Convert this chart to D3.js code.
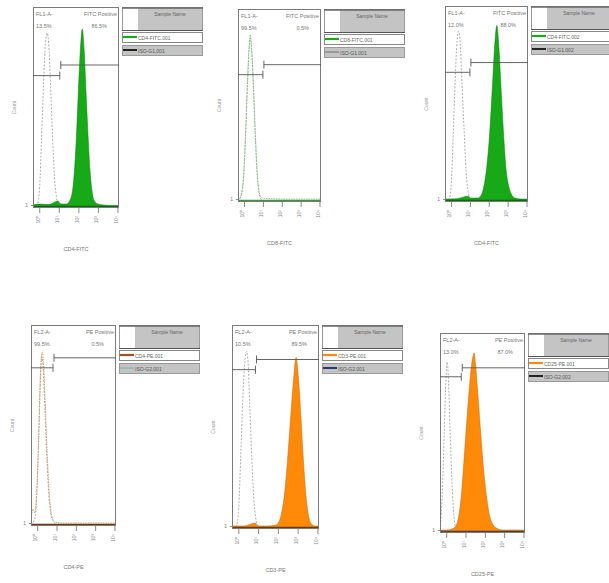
<!DOCTYPE html>
<html><head><meta charset="utf-8">
<script src="https://cdn.jsdelivr.net/npm/d3@7/dist/d3.min.js"></script>
<style>body{margin:0;background:#fff}svg{display:block;font-family:"Liberation Sans",Arial,sans-serif}</style>
</head><body><svg id="c" width="609" height="583"></svg>
<script>
// ---------- data ----------
const xLabels = ["CD4-FITC","CD8-FITC","CD4-FITC","CD4-PE","CD3-PE","CD25-PE"];
const leftGateNames = ["FL1-A-","FL1-A-","FL1-A-","FL2-A-","FL2-A-","FL2-A-"];
const rightGateNames = ["FITC Positive","FITC Positive","FITC Positive","PE Positive","PE Positive","PE Positive"];
const leftPct = ["13.5%","99.5%","12.0%","99.5%","10.5%","13.0%"];
const rightPct = ["86.5%","0.5%","88.0%","0.5%","89.5%","87.0%"];
const sampleNames = ["CD4-FITC.001","CD8-FITC.001","CD4-FITC.002","CD4-PE.001","CD3-PE.001","CD25-PE.001"];
const controlNames = ["ISO-G1.001","ISO-G1.001","ISO-G1.002","ISO-G2.001","ISO-G2.001","ISO-G2.002"];
const tickLabels = ["10\u2070","10\u00b9","10\u00b2","10\u00b3","10\u2074"];
const tickValues = [0,1,2,3,4];
const gateBoundary = [1.05, 1.0, 1.0, 0.82, 0.87, 0.78];
const gateLeftLevel = [65.7, 65.8, 66, 78.6, 78, 78];
const gateRightLevel = [71, 71, 71, 83.6, 83, 82.5];

// histograms: [log decade, % of max height]
const sample1 = [[-0.32,1],[0,1.5],[0.5,1.2],[0.8,2.5],[0.95,3],[1.1,1.5],[1.4,1.5],[1.55,3],[1.7,8],[1.8,18],[1.9,35],[2.0,58],[2.1,78],[2.2,89],[2.3,78],[2.4,56],[2.5,35],[2.6,18],[2.7,8],[2.82,3],[3.0,1.5],[3.3,1],[3.6,0.8],[4.1,0.8]];
const control1 = [[-0.32,0],[-0.1,1],[0.02,10],[0.12,35],[0.22,62],[0.32,82],[0.4,87],[0.48,82],[0.58,60],[0.68,35],[0.78,15],[0.88,5],[0.98,1.5],[1.1,0.5],[1.5,0],[4.1,0]];
const sample2 = [[-0.35,0.5],[-0.2,2],[-0.05,10],[0.08,35],[0.18,62],[0.27,80],[0.33,86.5],[0.4,80],[0.5,60],[0.6,35],[0.7,15],[0.8,5],[0.9,2],[1.05,1.5],[1.5,1.2],[2.5,1],[3.5,1],[4.1,1]];
const control2 = [[-0.35,0],[-0.2,1.5],[-0.05,9],[0.08,33],[0.18,60],[0.27,79],[0.33,85],[0.4,79],[0.5,58],[0.6,33],[0.7,13],[0.8,4],[0.9,1],[1.1,0],[4.1,0]];
const sample3 = [[-0.32,1],[0.3,1.2],[0.9,2.5],[1.05,1.5],[1.4,1.5],[1.6,3],[1.75,8],[1.9,18],[2.05,35],[2.2,60],[2.33,82],[2.43,90],[2.53,80],[2.65,58],[2.78,35],[2.9,18],[3.05,8],[3.2,3.5],[3.4,1.5],[3.7,1],[4.1,1]];
const control3 = [[-0.32,0],[-0.1,1],[0.02,10],[0.12,35],[0.22,62],[0.32,82],[0.4,87],[0.48,82],[0.58,60],[0.7,35],[0.8,15],[0.9,5],[1.0,1.5],[1.15,0.5],[1.5,0],[4.1,0]];
const sample4 = [[-0.32,2],[-0.22,8],[-0.12,6],[-0.05,12],[0.05,35],[0.13,65],[0.2,82],[0.26,86.5],[0.32,82],[0.4,65],[0.5,40],[0.6,20],[0.7,8],[0.8,3],[0.9,1.5],[1.2,1],[2,1],[3,1],[4.1,1]];
const control4 = [[-0.32,0],[-0.1,4],[0.0,20],[0.1,50],[0.18,75],[0.24,84],[0.3,80],[0.38,62],[0.48,38],[0.58,18],[0.7,6],[0.85,1.5],[1.0,0],[4.1,0]];
const sample5 = [[-0.35,1],[0.3,1],[0.85,2.5],[1.0,1],[1.5,1],[1.9,1.5],[2.05,3],[2.2,8],[2.35,18],[2.5,35],[2.65,55],[2.8,74],[2.92,84],[3.04,74],[3.18,52],[3.3,32],[3.42,16],[3.55,6],[3.7,2],[3.9,1],[4.1,1]];
const control5 = [[-0.32,0],[-0.1,1],[0.02,10],[0.12,35],[0.22,62],[0.33,82],[0.41,87],[0.49,82],[0.58,60],[0.68,35],[0.78,15],[0.88,5],[0.96,1.5],[1.1,0.5],[1.5,0],[4.1,0]];
const sample6 = [[-0.35,1],[0.0,1],[0.3,1.5],[0.5,3],[0.65,8],[0.8,20],[0.95,40],[1.1,60],[1.25,78],[1.38,88],[1.45,90],[1.52,84],[1.65,68],[1.8,48],[1.95,30],[2.1,17],[2.25,8],[2.4,4],[2.6,2],[2.9,1],[4.1,1]];
const control6 = [[-0.36,0],[-0.3,3],[-0.2,20],[-0.1,50],[-0.02,75],[0.05,85.5],[0.12,76],[0.2,52],[0.3,25],[0.4,8],[0.5,2],[0.6,0],[4.1,0]];
const sampleCurves = [sample1,sample2,sample3,sample4,sample5,sample6];
const controlCurves = [control1,control2,control3,control4,control5,control6];

// ---------- layout / style ----------
const frames = [{x:33,y:7,w:86,h:201},{x:238,y:9,w:83,h:193},{x:445,y:6,w:83,h:196},
                {x:31,y:325,w:85,h:201},{x:232,y:325,w:87,h:204},{x:440,y:333,w:85,h:200}];
const GREEN = "#17a917", ORANGE = "#ff8a0a";
const styles = [
  {fill:GREEN, stroke:"#0d7a0d", mode:"fill", sw1:GREEN, sw2:"#222"},
  {fill:"none", stroke:"#6fbf6f", mode:"line", sw1:GREEN, sw2:"#999"},
  {fill:GREEN, stroke:"#0d7a0d", mode:"fill", sw1:GREEN, sw2:"#222"},
  {fill:"none", stroke:"#c98a4a", mode:"line", sw1:"#a0521d", sw2:"#9bb"},
  {fill:ORANGE, stroke:"#c86400", mode:"fill", sw1:ORANGE, sw2:"#1f3f6f"},
  {fill:ORANGE, stroke:"#c86400", mode:"fill", sw1:ORANGE, sw2:"#222"}
];
const baseColors = ["#0d6a0d","#3a9a3a","#0d6a0d","#6a3a10","#6a3a10","#444"];

const svg = d3.select("#c");
const defs = svg.append("defs");

frames.forEach((f,i)=>{
  const st = styles[i];
  const x = d3.scaleLinear().domain([-0.32,4.08]).range([f.x,f.x+f.w]);
  const y = d3.scaleLinear().domain([0,100]).range([f.y+f.h-1,f.y]);
  const g = svg.append("g");
  defs.append("clipPath").attr("id","cl"+i).append("rect")
    .attr("x",f.x).attr("y",f.y).attr("width",f.w).attr("height",f.h);
  const pg = g.append("g").attr("clip-path","url(#cl"+i+")");

  const area = d3.area().x(d=>x(d[0])).y0(y(0)).y1(d=>y(d[1])).curve(d3.curveMonotoneX);
  const line = d3.line().x(d=>x(d[0])).y(d=>y(d[1])).curve(d3.curveMonotoneX);

  pg.append("path").attr("d",line(controlCurves[i])).attr("fill","none")
    .attr("stroke","#9a9a9a").attr("stroke-width",0.8).attr("stroke-dasharray","2,1.5");
  if(st.mode==="fill"){
    pg.append("path").attr("d",area(sampleCurves[i])).attr("fill",st.fill)
      .attr("stroke",st.stroke).attr("stroke-width",0.5);
  } else {
    pg.append("path").attr("d",line(sampleCurves[i])).attr("fill","none")
      .attr("stroke",st.stroke).attr("stroke-width",0.8).attr("stroke-dasharray","1.5,1");
  }
  pg.append("line").attr("x1",f.x).attr("x2",f.x+f.w).attr("y1",y(0)-0.5).attr("y2",y(0)-0.5)
    .attr("stroke",baseColors[i]).attr("stroke-width",1.3);

  g.append("rect").attr("x",f.x+0.5).attr("y",f.y+0.5).attr("width",f.w-1).attr("height",f.h-1)
    .attr("fill","none").attr("stroke","#7a7a7a").attr("stroke-width",1);

  const gb = x(gateBoundary[i]);
  const yl = y(gateLeftLevel[i]), yr = y(gateRightLevel[i]);
  g.append("path").attr("d",`M${f.x},${yl}H${gb}M${gb},${yl-4}V${yl+4}`)
    .attr("stroke","#555").attr("stroke-width",0.9).attr("fill","none");
  g.append("path").attr("d",`M${gb+1},${yr-4}V${yr+4}M${gb+1},${yr}H${f.x+f.w}`)
    .attr("stroke","#555").attr("stroke-width",0.9).attr("fill","none");

  const tg = g.append("g").attr("font-size",5.5).attr("fill","#777");
  tg.append("text").attr("x",f.x+3).attr("y",f.y+9).text(leftGateNames[i]);
  tg.append("text").attr("x",f.x+3).attr("y",f.y+21).text(leftPct[i]);
  tg.append("text").attr("x",f.x+f.w-2).attr("y",f.y+9).attr("text-anchor","end").text(rightGateNames[i]);
  tg.append("text").attr("x",f.x+f.w-12).attr("y",f.y+21).attr("text-anchor","end").text(rightPct[i]);

  const ax = g.append("g").attr("transform",`translate(0,${f.y+f.h})`)
    .call(d3.axisBottom(x).tickValues(tickValues).tickSize(5).tickFormat(d=>tickLabels[d]));
  ax.select(".domain").remove();
  ax.selectAll(".tick line").attr("stroke","#888");
  ax.selectAll(".tick text").attr("font-size",5).attr("fill","#888")
    .attr("transform","rotate(-90)").attr("text-anchor","end").attr("x",-8).attr("y",-2).attr("dy","0.35em");

  const ay = g.append("g").attr("transform",`translate(${f.x},0)`)
    .call(d3.axisLeft(y).tickValues([1]).tickSize(2).tickFormat(()=>"1"));
  ay.select(".domain").remove();
  ay.selectAll(".tick line").attr("stroke","#888");
  ay.selectAll(".tick text").attr("font-size",5).attr("fill","#777");

  g.append("text").attr("x",f.x+f.w/2).attr("y",f.y+f.h+43).attr("text-anchor","middle")
    .attr("font-size",5.5).attr("fill","#777").text(xLabels[i]);
  g.append("text").attr("transform",`translate(${f.x-17},${f.y+f.h/2}) rotate(-90)`)
    .attr("text-anchor","middle").attr("font-size",5).attr("fill","#999").text("Count");

  const lg = g.append("g").attr("transform",`translate(${f.x+f.w+3},${f.y})`);
  const LW = 80;
  lg.append("rect").attr("x",0.5).attr("y",0.5).attr("width",LW).attr("height",23).attr("fill","#fff").attr("stroke","#999");
  lg.append("rect").attr("x",16).attr("y",1).attr("width",LW-16).attr("height",22).attr("fill","#c4c4c4");
  lg.append("line").attr("x1",0).attr("x2",LW+1).attr("y1",1).attr("y2",1).attr("stroke","#666").attr("stroke-width",1.5);
  lg.append("line").attr("x1",0).attr("x2",LW+1).attr("y1",23.5).attr("y2",23.5).attr("stroke","#555").attr("stroke-width",1);
  lg.append("text").attr("x",16+(LW-16)/2).attr("y",9).attr("text-anchor","middle")
    .attr("font-size",5).attr("fill","#666").text("Sample Name");
  lg.append("rect").attr("x",0.5).attr("y",25.5).attr("width",LW).attr("height",10).attr("fill","#fff").attr("stroke","#888");
  lg.append("line").attr("x1",1).attr("x2",15).attr("y1",30).attr("y2",30).attr("stroke",st.sw1).attr("stroke-width",2.2);
  lg.append("text").attr("x",16).attr("y",32.5).attr("font-size",5).attr("fill","#666").text(sampleNames[i]);
  lg.append("rect").attr("x",0.5).attr("y",38.5).attr("width",LW).attr("height",10).attr("fill","#c4c4c4").attr("stroke","#999");
  lg.append("line").attr("x1",1).attr("x2",15).attr("y1",43).attr("y2",43).attr("stroke",st.sw2).attr("stroke-width",2);
  lg.append("text").attr("x",16).attr("y",45.5).attr("font-size",5).attr("fill","#555").text(controlNames[i]);
});
</script></body></html>
